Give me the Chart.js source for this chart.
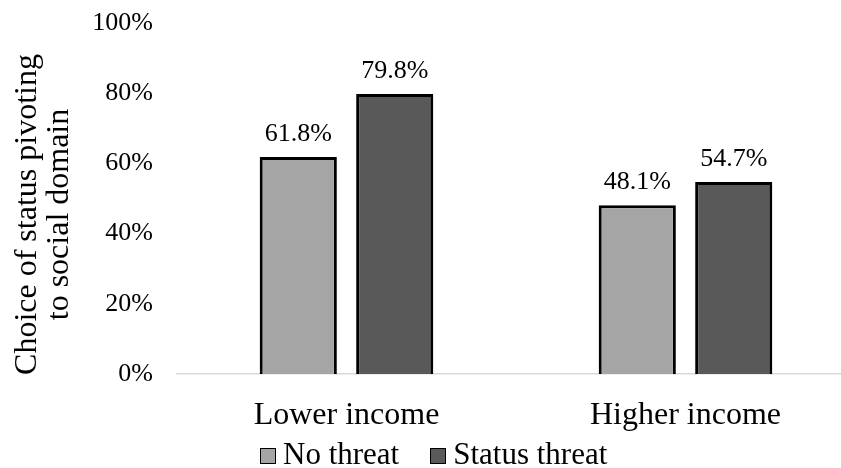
<!DOCTYPE html>
<html>
<head>
<meta charset="utf-8">
<script src="https://cdn.jsdelivr.net/npm/chart.js@4.4.1/dist/chart.umd.min.js"></script>
<style>
  html, body { margin: 0; padding: 0; background: #fff; overflow: hidden; }
  #wrap { position: relative; width: 841px; height: 468px; overflow: hidden; }
  #box { position: absolute; left: 0; top: 0; width: 860px; height: 468px; }
  #legend { position: absolute; left: 260px; top: 438px; font-family: "Liberation Serif", "Times New Roman", serif; font-size: 31px; line-height: 31px; color: #000; white-space: nowrap; }
  #legend span.item { display: inline-block; margin-right: 31px; }
  #legend i { display: inline-block; width: 14px; height: 14px; border: 1.5px solid #000; margin-right: 7px; vertical-align: 0px; }
</style>
</head>
<body>
<div id="wrap">
  <div id="box"><canvas id="myChart"></canvas></div>
  <div id="legend"></div>
</div>
<script>
const categories = ['Lower income', 'Higher income'];
const seriesNames = ['No threat', 'Status threat'];
const noThreat = [61.8, 48.1];
const statusThreat = [79.8, 54.7];
const seriesColors = ['#a5a5a5', '#595959'];
const yTicks = [0, 20, 40, 60, 80, 100];
const yTitle = ['Choice of status pivoting', 'to social domain'];

const serif = '"Liberation Serif", "Times New Roman", serif';

// value labels above the bars
const barLabels = {
  id: 'barLabels',
  afterDatasetsDraw(chart) {
    const ctx = chart.ctx;
    ctx.save();
    ctx.font = '26px ' + serif;
    ctx.fillStyle = '#000';
    ctx.textAlign = 'center';
    ctx.textBaseline = 'alphabetic';
    chart.data.datasets.forEach((ds, i) => {
      chart.getDatasetMeta(i).data.forEach((bar, j) => {
        ctx.fillText(ds.data[j].toFixed(1) + '%', bar.x, bar.y - 16);
      });
    });
    ctx.restore();
  }
};

// rotated two-line y axis title (sits a bit below the axis middle, like excel)
const yAxisTitle = {
  id: 'yAxisTitle',
  afterDraw(chart) {
    const y = chart.scales.y;
    const ctx = chart.ctx;
    ctx.save();
    ctx.font = '32px ' + serif;
    ctx.fillStyle = '#000';
    ctx.textAlign = 'center';
    ctx.textBaseline = 'alphabetic';
    ctx.translate(0, (y.top + y.bottom) / 2 + 16);
    ctx.rotate(-Math.PI / 2);
    yTitle.forEach((line, i) => ctx.fillText(line, 0, 36 + i * 32));
    ctx.restore();
  }
};

const legendEl = document.getElementById('legend');
legendEl.innerHTML = seriesNames.map((n, i) =>
  '<span class="item"><i style="background:' + seriesColors[i] + '"></i>' + n + '</span>').join('');

const myChartRef = document.getElementById('myChart').getContext('2d');
new Chart(myChartRef, {
  type: 'bar',
  data: {
    labels: categories,
    datasets: [
      { label: seriesNames[0], data: noThreat, backgroundColor: seriesColors[0] },
      { label: seriesNames[1], data: statusThreat, backgroundColor: seriesColors[1] }
    ]
  },
  options: {
    responsive: true,
    maintainAspectRatio: false,
    animation: false,
    devicePixelRatio: 1,
    layout: { padding: { top: 23, right: 5, left: 0, bottom: 0 } },
    datasets: {
      bar: {
        borderColor: '#000',
        borderWidth: 3,
        categoryPercentage: 0.569,
        barPercentage: 0.8
      }
    },
    plugins: {
      legend: { display: false },
      tooltip: { enabled: false }
    },
    scales: {
      x: {
        grid: { display: false, drawTicks: false },
        border: { display: true, color: '#d9d9d9', width: 1.5 },
        ticks: { color: '#000', font: { family: serif, size: 32 }, padding: 22, maxRotation: 0 },
        afterFit(scale) { scale.height = 94; }
      },
      y: {
        min: 0,
        max: 100,
        afterBuildTicks(scale) { scale.ticks = yTicks.map(v => ({ value: v })); },
        grid: { display: false, drawTicks: false },
        border: { display: false },
        ticks: { color: '#000', font: { family: serif, size: 26 }, padding: 24, callback: v => v + '%' },
        afterFit(scale) {
          scale.width = 177;
          // tick padding should only push labels sideways, not shrink the plot
          scale.paddingTop = 0;
          scale.paddingBottom = 0;
        }
      }
    }
  },
  plugins: [barLabels, yAxisTitle]
});
</script>
</body>
</html>
